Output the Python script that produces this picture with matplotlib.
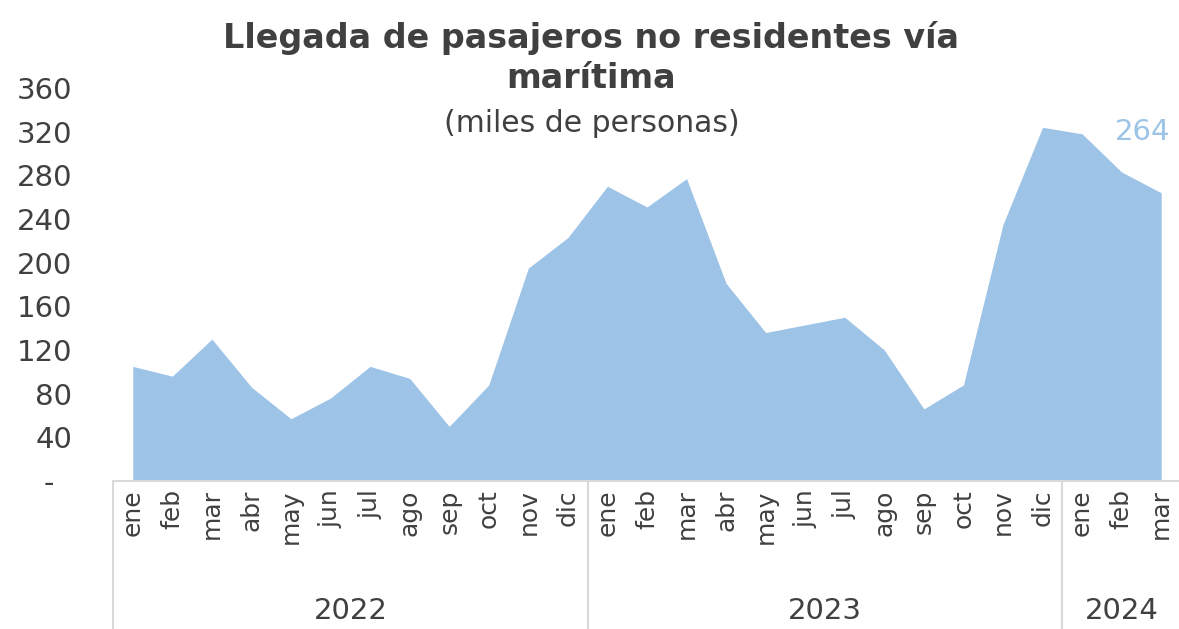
import matplotlib
matplotlib.use("Agg")
import matplotlib.pyplot as plt
import matplotlib.transforms as mtransforms

plt.rcParams['font.family'] = ['DejaVu Sans']

# Monthly arrivals of non-resident passengers by sea (thousands)
months = ["ene", "feb", "mar", "abr", "may", "jun", "jul", "ago", "sep", "oct", "nov", "dic",
          "ene", "feb", "mar", "abr", "may", "jun", "jul", "ago", "sep", "oct", "nov", "dic",
          "ene", "feb", "mar"]
years = ["2022", "2023", "2024"]
year_counts = [12, 12, 3]
values = [105, 96, 130, 86, 57, 76, 105, 94, 50, 88, 195, 223,
          270, 251, 277, 181, 136, 143, 150, 120, 66, 88, 235, 324,
          318, 283, 264]
y_ticks = [0, 40, 80, 120, 160, 200, 240, 280, 320, 360]
y_labels = ["-", "40", "80", "120", "160", "200", "240", "280", "320", "360"]

fill_color = "#9DC3E6"
text_color = "#404040"
grid_color = "#D9D9D9"

W, H = 1179, 629
fig = plt.figure(figsize=(W / 100, H / 100), dpi=100)
ax = fig.add_axes([113 / W, (H - 481) / H, 1068 / W, (481 - 88) / H])

x = list(range(len(values)))
ax.fill_between(x, values, 0, color=fill_color, linewidth=0)

ax.set_xlim(-0.5, len(values) - 0.5)
ax.set_ylim(0, 360)
ax.set_yticks(y_ticks)
ax.set_yticklabels(y_labels, fontsize=21, color=text_color)
ax.tick_params(axis='y', length=0, pad=29.5)
for lbl in ax.get_yticklabels():
    lbl.set_horizontalalignment('right')
# the zero dash sits a little further left than the numbers
ax.get_yticklabels()[0].set_transform(
    ax.get_yaxis_transform(which='tick1') +
    mtransforms.ScaledTranslation(-(29.5 + 13) / 72, 0, fig.dpi_scale_trans))

ax.set_xticks(x)
ax.set_xticklabels(months, rotation=90, fontsize=18, color=text_color, va='top')
ax.tick_params(axis='x', length=0, pad=6)

for side in ['top', 'right', 'left']:
    ax.spines[side].set_visible(False)
ax.spines['bottom'].set_color(grid_color)
ax.spines['bottom'].set_linewidth(1.5)

# Year group separators and labels below the month axis
trans = mtransforms.blended_transform_factory(ax.transData, ax.transAxes)
drop = -(H - 481) / (481 - 88)
start = 0
bounds = [-0.5]
for name, n in zip(years, year_counts):
    end = start + n
    bounds.append(end - 0.5)
    ax.text((start + end - 1) / 2, drop * 0.88, name, transform=trans,
            ha='center', va='center', fontsize=21, color=text_color)
    start = end
for b in bounds[:-1]:
    ax.plot([b, b], [0, drop], transform=trans, color=grid_color,
            linewidth=1.5, clip_on=False)

# Last value label
ax.annotate(str(values[-1]), xy=(x[-1], values[-1]), xytext=(9, 61),
            textcoords='offset pixels', ha='right', va='center',
            fontsize=21, color=fill_color)

fig.text(591 / W, 1 - 38 / H, "Llegada de pasajeros no residentes vía",
         ha='center', va='center', fontsize=24, fontweight='bold', color=text_color)
fig.text(591 / W, 1 - 78 / H, "marítima",
         ha='center', va='center', fontsize=24, fontweight='bold', color=text_color)
fig.text(592 / W, 1 - 124 / H, "(miles de personas)",
         ha='center', va='center', fontsize=21.5, color=text_color)

fig.savefig("out.png", dpi=100, facecolor="white")
